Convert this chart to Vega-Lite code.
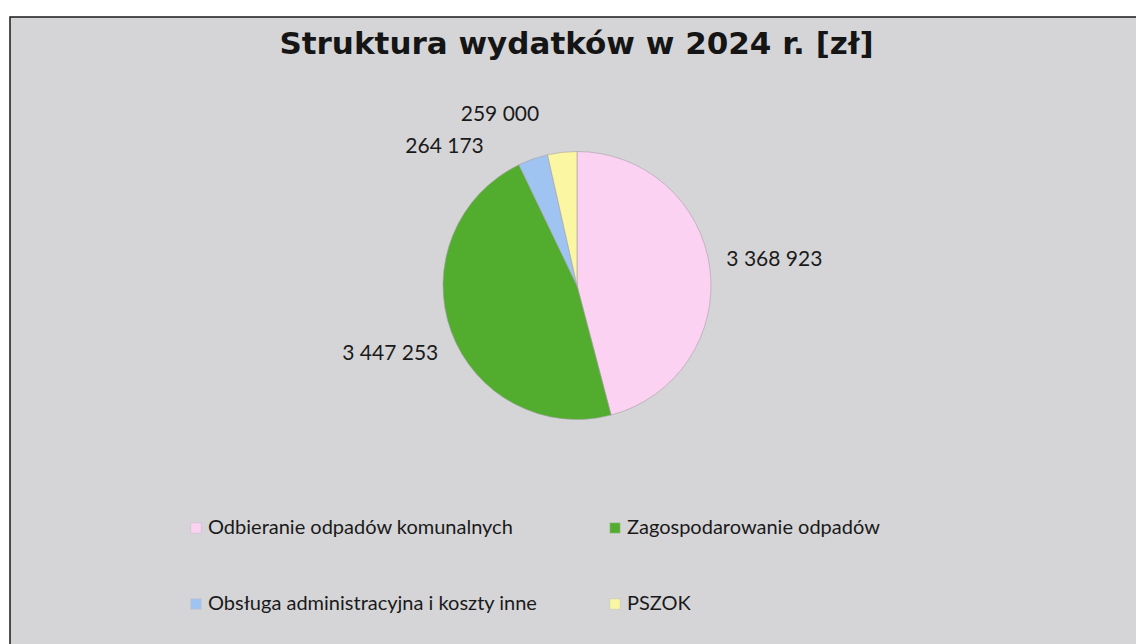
{
  "$schema": "https://vega.github.io/schema/vega-lite/v6.json",
  "autosize": {"type": "fit", "contains": "padding"},
  "width": 1136,
  "height": 644,
  "padding": {"left": 9, "top": 16, "right": -3, "bottom": -3},
  "background": "white",
  "title": {
    "text": "Struktura wydatków w 2024 r. [zł]",
    "font": "DejaVu Sans",
    "fontSize": 31,
    "fontWeight": "bold",
    "color": "#151515",
    "anchor": "middle",
    "offset": -45,
    "dx": 2.5
  },
  "config": {
    "view": {"stroke": null}
  },
  "data": {
    "values": [
      {"kategoria": "Odbieranie odpadów komunalnych", "wartosc": 3368923, "etykieta": "3 368 923", "kolejnosc": 1},
      {"kategoria": "Zagospodarowanie odpadów", "wartosc": 3447253, "etykieta": "3 447 253", "kolejnosc": 2},
      {"kategoria": "Obsługa administracyjna i koszty inne", "wartosc": 264173, "etykieta": "264 173", "kolejnosc": 3},
      {"kategoria": "PSZOK", "wartosc": 259000, "etykieta": "259 000", "kolejnosc": 4}
    ]
  },
  "layer": [
    {
      "data": {"values": [{"tlo": 1}]},
      "mark": {"type": "rect", "fill": "#d5d5d8", "stroke": "#1a1a1a", "strokeWidth": 1.5},
      "encoding": {}
    },
    {
      "mark": {
        "type": "arc",
        "outerRadius": 134,
        "x": {"expr": "width/2 + 3"},
        "y": {"expr": "height/2 - 46"},
        "stroke": "#a8a0a8",
        "strokeWidth": 0.6
      },
      "encoding": {
        "theta": {"field": "wartosc", "type": "quantitative", "stack": true},
        "order": {"field": "kolejnosc", "type": "quantitative"},
        "color": {
          "field": "kategoria",
          "type": "nominal",
          "sort": null,
          "scale": {
            "domain": ["Odbieranie odpadów komunalnych", "Zagospodarowanie odpadów", "Obsługa administracyjna i koszty inne", "PSZOK"],
            "range": ["#fbd2f2", "#52ad2e", "#9fc4f2", "#fbf6a2"]
          },
          "legend": {
            "title": null,
            "orient": "none",
            "legendX": 176,
            "legendY": 501,
            "direction": "horizontal",
            "columns": 2,
            "columnPadding": 67,
            "rowPadding": 56,
            "padding": 0,
            "symbolType": "square",
            "symbolSize": 110,
            "symbolStrokeColor": "#c4c4c4",
            "symbolStrokeWidth": 0.6,
            "labelFont": "Lato",
            "labelFontSize": 20,
            "labelColor": "#1a1a1a",
            "labelOffset": 2,
            "labelLimit": 500
          }
        }
      }
    },
    {
      "mark": {
        "type": "text",
        "radius": 199,
        "x": {"expr": "width/2 + 3"},
        "y": {"expr": "height/2 - 46"},
        "font": "Lato",
        "fontSize": 21,
        "color": "#1a1a1a"
      },
      "encoding": {
        "theta": {"field": "wartosc", "type": "quantitative", "stack": true},
        "order": {"field": "kolejnosc", "type": "quantitative"},
        "text": {
          "condition": {"test": "datum.kolejnosc <= 2", "field": "etykieta", "type": "nominal"},
          "value": ""
        }
      }
    },
    {
      "mark": {
        "type": "text",
        "radius": 190,
        "dx": -70,
        "dy": 41,
        "x": {"expr": "width/2 + 3"},
        "y": {"expr": "height/2 - 46"},
        "font": "Lato",
        "fontSize": 21,
        "color": "#1a1a1a"
      },
      "encoding": {
        "theta": {"field": "wartosc", "type": "quantitative", "stack": true},
        "order": {"field": "kolejnosc", "type": "quantitative"},
        "text": {
          "condition": {"test": "datum.kolejnosc == 3", "field": "etykieta", "type": "nominal"},
          "value": ""
        }
      }
    },
    {
      "mark": {
        "type": "text",
        "radius": 190,
        "dx": -56,
        "dy": 18,
        "x": {"expr": "width/2 + 3"},
        "y": {"expr": "height/2 - 46"},
        "font": "Lato",
        "fontSize": 21,
        "color": "#1a1a1a"
      },
      "encoding": {
        "theta": {"field": "wartosc", "type": "quantitative", "stack": true},
        "order": {"field": "kolejnosc", "type": "quantitative"},
        "text": {
          "condition": {"test": "datum.kolejnosc == 4", "field": "etykieta", "type": "nominal"},
          "value": ""
        }
      }
    }
  ]
}
